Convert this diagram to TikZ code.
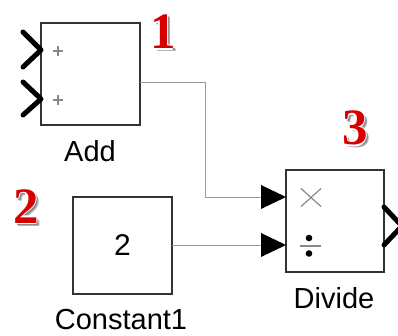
\documentclass[tikz,border=0pt]{standalone}
\usepackage{fontspec}
\setmainfont{Liberation Sans}
\newfontfamily\numfont{Liberation Serif}
\usetikzlibrary{calc}

\definecolor{blockedge}{HTML}{333333}
\definecolor{wiregray}{HTML}{9A9A9A}
\definecolor{signgray}{HTML}{888888}
\definecolor{markred}{HTML}{D60000}

% Step number: red bold digit with a white rim and a soft grey drop shadow
\newcommand\markdigit[1]{%
  \makebox[0pt][l]{\hspace{3pt}\raisebox{-3pt}{\textcolor{black!30}{#1}}}%
  \makebox[0pt][l]{\hspace{2pt}\raisebox{-2pt}{\textcolor{black!45}{#1}}}%
  \makebox[0pt][l]{\hspace{-1.3pt}\textcolor{white}{#1}}%
  \makebox[0pt][l]{\hspace{1.3pt}\textcolor{white}{#1}}%
  \makebox[0pt][l]{\raisebox{1.3pt}{\textcolor{white}{#1}}}%
  \makebox[0pt][l]{\raisebox{-1.3pt}{\textcolor{white}{#1}}}%
  \textcolor{markred}{#1}}

\tikzset{
  block/.style={draw=blockedge, line width=1.4pt, fill=white, inner sep=0pt,
    minimum width=#1},
  block/.default=99pt,
  caption/.style={font=\fontsize{29}{30}\selectfont, inner sep=0pt},
  wire/.style={draw=wiregray, line width=1pt},
  chevron/.style={line width=5pt, line cap=round, line join=round, black},
  intri/.style={fill=black},
  stepnum/.style={font=\numfont\bfseries\fontsize{51}{51}\selectfont, inner sep=0pt},
  signline/.style={draw=signgray, line width=1.2pt},
}

\begin{document}
\begin{tikzpicture}[x=1pt, y=-1pt]
\useasboundingbox (0,0) rectangle (398,335);

% blocks
\node[block, minimum height=102pt] (add) at (90.5,74) {};
\node[block, minimum height=97pt, font=\fontsize{30}{30}\selectfont] (const) at (122.5,245.5) {2};
\node[block=98pt, minimum height=102pt] (div) at (335,221) {};

% block names
\node[caption] (addlbl) at (90,151) {Add};
\node[caption] (constlbl) at (121,320) {Constant1};
\node[caption] (divlbl) at (334,298) {Divide};

% port signs drawn inside the blocks
\coordinate (plusA) at (58,51);
\coordinate (plusB) at (58,100);
\coordinate (times) at (311,197.5);
\coordinate (over) at (310,246);
\foreach \p in {plusA, plusB}{
  \draw[signline] ($(\p)+(-5,0)$) -- ($(\p)+(5,0)$);
  \draw[signline] ($(\p)+(0,-5)$) -- ($(\p)+(0,5)$);
}
\draw[signline] ($(times)+(-10,-9)$) -- ($(times)+(10,9)$);
\draw[signline] ($(times)+(-10,9)$) -- ($(times)+(10,-9)$);
\draw[signline] ($(over)+(-10,0)$) -- ($(over)+(11,0)$);
\fill[black] ($(over)+(-1,-8)$) circle (3.3);
\fill[black] ($(over)+(-1,7.5)$) circle (3.3);

% ports
\coordinate (addin1) at (41,50);
\coordinate (addin2) at (41,99);
\coordinate (addout) at (140,82);
\coordinate (constout) at (172,245);
\coordinate (divin1) at (286,197);
\coordinate (divin2) at (286,245);
\coordinate (divout) at (384,226);
\coordinate (tip1) at ($(divin1)+(-25,0)$);
\coordinate (tip2) at ($(divin2)+(-25,0)$);

% open input / output ports
\draw[chevron] ($(addin1)+(-18,-18)$) -- (addin1) -- ($(addin1)+(-18,17)$);
\draw[chevron] ($(addin2)+(-18,-17)$) -- (addin2) -- ($(addin2)+(-18,16)$);
\draw[chevron] ($(divout)+(0,-19)$) -- ($(divout)+(18,0)$) -- ($(divout)+(0,19)$);

% connections
\draw[wire] (addout) -- (addout -| 205,0) |- (tip1);
\draw[wire] (constout) -- (tip2);

% arrowheads on the divide inputs
\fill[intri] ($(divin1)+(-25,-12)$) -- (divin1) -- ($(divin1)+(-25,12)$) -- cycle;
\fill[intri] ($(divin2)+(-25,-12)$) -- (divin2) -- ($(divin2)+(-25,12)$) -- cycle;

% step numbers
\node[stepnum] (num1) at (163,33) {\markdigit{1}};
\node[stepnum] (num2) at (26,207) {\markdigit{2}};
\node[stepnum] (num3) at (355,129) {\markdigit{3}};
\end{tikzpicture}
\end{document}
